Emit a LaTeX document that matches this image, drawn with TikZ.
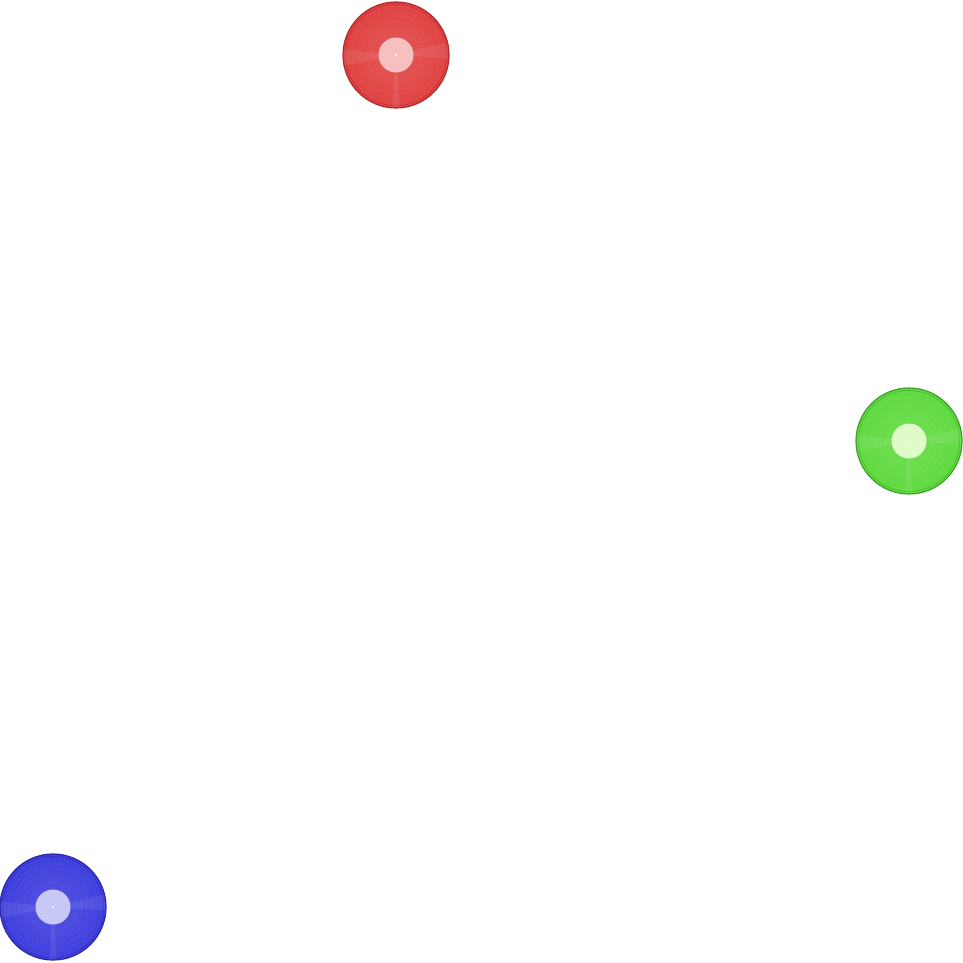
\documentclass[tikz,border=0pt]{standalone}
\definecolor{redbase}{RGB}{224,66,66}
\definecolor{rededge}{RGB}{176,42,42}
\definecolor{redlabel}{RGB}{247,192,192}
\definecolor{greenbase}{RGB}{96,218,64}
\definecolor{greenedge}{RGB}{60,160,40}
\definecolor{greenlabel}{RGB}{224,250,200}
\definecolor{bluebase}{RGB}{62,62,222}
\definecolor{blueedge}{RGB}{40,40,170}
\definecolor{bluelabel}{RGB}{200,200,246}
\tikzset{
  disc/.style={circle, minimum size=106pt, inner sep=0pt, draw=#1edge, line width=1.2pt,
    inner color=#1base!88!white, outer color=#1base},
  disclabel/.style={circle, minimum size=35pt, inner sep=0pt, fill=#1label},
  discgroove/.style={draw=white, opacity=0.12, line width=0.35pt, dash pattern=on 3pt off 1.5pt},
  discsheen/.style={fill=white, opacity=0.08},
  discrim/.style={draw=#1edge, line width=0.6pt, opacity=0.6}
}
\begin{document}
\begin{tikzpicture}[x=1pt,y=-1pt]
\useasboundingbox (0,0) rectangle (963,963);
\foreach \c/\x/\y in {red/396/55, green/909/441, blue/53/907}{
  \node[disc=\c] (\c) at (\x,\y) {};
  \foreach \r in {24,29,34,39,44,49}
    \draw[discgroove] (\c.center) circle[radius=\r];
  \draw[discrim=\c] (\c.center) circle[radius=50.5];
  \fill[discsheen] (\c.center) -- ++(4:52) arc[start angle=4, end angle=-14, radius=52] -- cycle;
  \fill[discsheen] (\c.center) -- ++(186:52) arc[start angle=186, end angle=168, radius=52] -- cycle;
  \fill[discsheen] (\c.center) -- ++(86:52) arc[start angle=86, end angle=94, radius=52] -- cycle;
  \node[disclabel=\c] (\c-label) at (\c.center) {};
  \fill[white] (\c-label.center) circle[radius=1.2];
}
\end{tikzpicture}
\end{document}
